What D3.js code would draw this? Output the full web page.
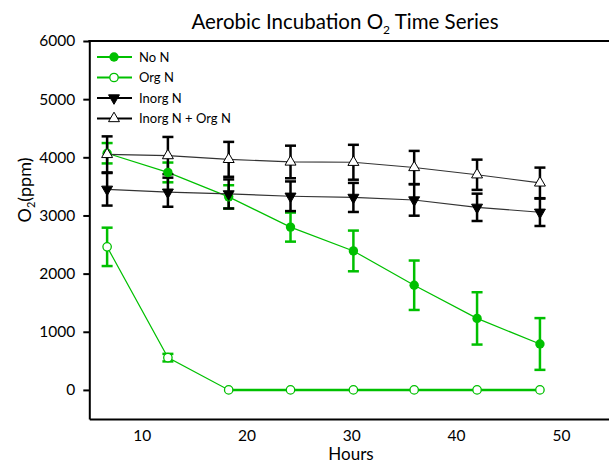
<!doctype html>
<html>
    <head>
        <title>Aerobic Incubation O2 Time Series</title>
        <style>
            body {
                margin: 0;
                overflow: hidden;
                background: #fff;
            }
            text {
                font-family: Lato, "Open Sans", sans-serif;
                fill: #000;
            }
        </style>
    </head>
    <body>
        <script src="https://cdn.jsdelivr.net/npm/d3@7"></script>
        <script>

            const hours = [6.7, 12.5, 18.3, 24.2, 30.2, 36, 42, 48];

            const noN = [4070, 3740, 3320, 2800, 2390, 1800, 1230, 790];
            const noNErr = [175, 170, 200, 250, 350, 425, 450, 445];
            const orgN = [2460, 555, 0, 0, 0, 0, 0, 0];
            const orgNErr = [330, 65, 0, 0, 0, 0, 0, 0];
            const inorgN = [3450, 3400, 3370, 3330, 3310, 3266, 3140, 3055];
            const inorgNErr = [280, 250, 250, 255, 250, 270, 235, 236];
            const inorgOrgN = [4050, 4030, 3965, 3920, 3915, 3825, 3700, 3560];
            const inorgOrgNErr = [310, 320, 300, 280, 300, 285, 260, 263];

            const yTicks = [0, 1000, 2000, 3000, 4000, 5000, 6000];
            const xTicks = [10, 20, 30, 40, 50];

            const width = 609;
            const height = 463;
            const green = '#00c000';

            const svg = d3.select('body')
                .append('svg')
                .attr('width', width)
                .attr('height', height);

            const x = d3.scaleLinear().domain([5, 55]).range([89.3, 613.3]);
            const y = d3.scaleLinear().domain([-500, 6000]).range([419, 41]);

            // series, drawn green first so the black ones sit on top
            const series = [
                { name: 'Org N', values: orgN, err: orgNErr, color: green, shape: 'circle', fill: '#fff' },
                { name: 'No N', values: noN, err: noNErr, color: green, shape: 'circle', fill: green },
                { name: 'Inorg N', values: inorgN, err: inorgNErr, color: '#000', shape: 'down', fill: '#000' },
                { name: 'Inorg N + Org N', values: inorgOrgN, err: inorgOrgNErr, color: '#000', shape: 'up', fill: '#fff' }
            ];

            const triUp = d3.symbol().type(d3.symbolTriangle).size(52);

            function drawMarker(g, s) {
                if (s.shape === 'circle') {
                    g.append('circle')
                        .attr('r', s.fill === '#fff' ? 4.2 : 4.7)
                        .attr('fill', s.fill)
                        .attr('stroke', s.color)
                        .attr('stroke-width', s.fill === '#fff' ? 1.3 : 0);
                } else {
                    g.append('path')
                        .attr('d', triUp)
                        .attr('transform', s.shape === 'down' ? 'rotate(180)' : null)
                        .attr('fill', s.fill)
                        .attr('stroke', '#000')
                        .attr('stroke-width', 1);
                }
            }

            const line = d3.line()
                .x((d, i) => x(hours[i]))
                .y((d) => y(d));

            series.forEach((s) => {
                const g = svg.append('g');
                g.append('path')
                    .datum(s.values)
                    .attr('d', line)
                    .attr('fill', 'none')
                    .attr('stroke', s.color === green ? green : '#333')
                    .attr('stroke-width', 1.2);

                // flat run at zero looks heavier in the original
                const zeroRun = s.values.map((v, i) => i).filter((i) => s.values[i] === 0 && s.err[i] === 0);
                if (zeroRun.length > 1) {
                    g.append('line')
                        .attr('x1', x(hours[zeroRun[0]])).attr('x2', x(hours[zeroRun[zeroRun.length - 1]]))
                        .attr('y1', y(0)).attr('y2', y(0))
                        .attr('stroke', s.color).attr('stroke-width', 2.5);
                }

                const bars = g.selectAll('.err')
                    .data(s.values.map((v, i) => ({ t: hours[i], v: v, e: s.err[i] })).filter((d) => d.e > 0))
                    .join('g')
                    .attr('stroke', s.color)
                    .attr('stroke-width', 2.5);
                bars.append('line')
                    .attr('x1', (d) => x(d.t)).attr('x2', (d) => x(d.t))
                    .attr('y1', (d) => y(d.v + d.e)).attr('y2', (d) => y(d.v - d.e));
                bars.append('line')
                    .attr('x1', (d) => x(d.t) - 5.5).attr('x2', (d) => x(d.t) + 5.5)
                    .attr('y1', (d) => y(d.v + d.e)).attr('y2', (d) => y(d.v + d.e));
                bars.append('line')
                    .attr('x1', (d) => x(d.t) - 5.5).attr('x2', (d) => x(d.t) + 5.5)
                    .attr('y1', (d) => y(d.v - d.e)).attr('y2', (d) => y(d.v - d.e));
            });

            series.forEach((s) => {
                s.values.forEach((v, i) => {
                    const m = svg.append('g')
                        .attr('transform', `translate(${x(hours[i])},${y(v)})`);
                    drawMarker(m, s);
                });
            });

            // axes
            const yAxis = svg.append('g')
                .attr('transform', `translate(${x(5)},0)`)
                .call(d3.axisLeft(y).tickValues(yTicks).tickFormat(d3.format('d'))
                    .tickSize(6).tickSizeOuter(0).tickPadding(8));
            yAxis.selectAll('text').style('font-size', '15.5px');
            yAxis.selectAll('line, path').attr('stroke', '#000').attr('stroke-width', 2);

            const xAxis = svg.append('g')
                .attr('transform', `translate(0,${y(-500)})`)
                .call(d3.axisBottom(x).tickValues(xTicks).tickSize(0).tickPadding(11));
            xAxis.selectAll('text').style('font-size', '15.5px');
            xAxis.select('path').attr('stroke', '#000').attr('stroke-width', 2);

            svg.append('line')
                .attr('x1', x(5) - 1).attr('x2', width)
                .attr('y1', y(6000)).attr('y2', y(6000))
                .attr('stroke', '#000').attr('stroke-width', 2);

            // legend
            const legend = svg.append('g');
            [series[1], series[0], series[2], series[3]].forEach((s, i) => {
                const ly = 57 + i * 20.5;
                legend.append('line')
                    .attr('x1', 97).attr('x2', 132)
                    .attr('y1', ly).attr('y2', ly)
                    .attr('stroke', s.color).attr('stroke-width', 2);
                drawMarker(legend.append('g').attr('transform', `translate(114,${ly})`), s);
                legend.append('text')
                    .attr('x', 139).attr('y', ly + 4.5)
                    .style('font-size', '13px')
                    .text(s.name);
            });

            // titles
            const title = svg.append('text')
                .attr('x', 345).attr('y', 29)
                .attr('text-anchor', 'middle')
                .style('font-size', '20.5px');
            title.append('tspan').text('Aerobic Incubation O');
            title.append('tspan').attr('dy', 5).style('font-size', '12px').text('2');
            title.append('tspan').attr('dy', -5).text(' Time Series');

            svg.append('text')
                .attr('x', 351).attr('y', 460)
                .attr('text-anchor', 'middle')
                .style('font-size', '17px')
                .text('Hours');

            const ylab = svg.append('text')
                .attr('transform', 'translate(31,190) rotate(-90)')
                .attr('text-anchor', 'middle')
                .style('font-size', '18px');
            ylab.append('tspan').text('O');
            ylab.append('tspan').attr('dy', 4).style('font-size', '11px').text('2');
            ylab.append('tspan').attr('dy', -4).text('(ppm)');

        </script>
    </body>
</html>
